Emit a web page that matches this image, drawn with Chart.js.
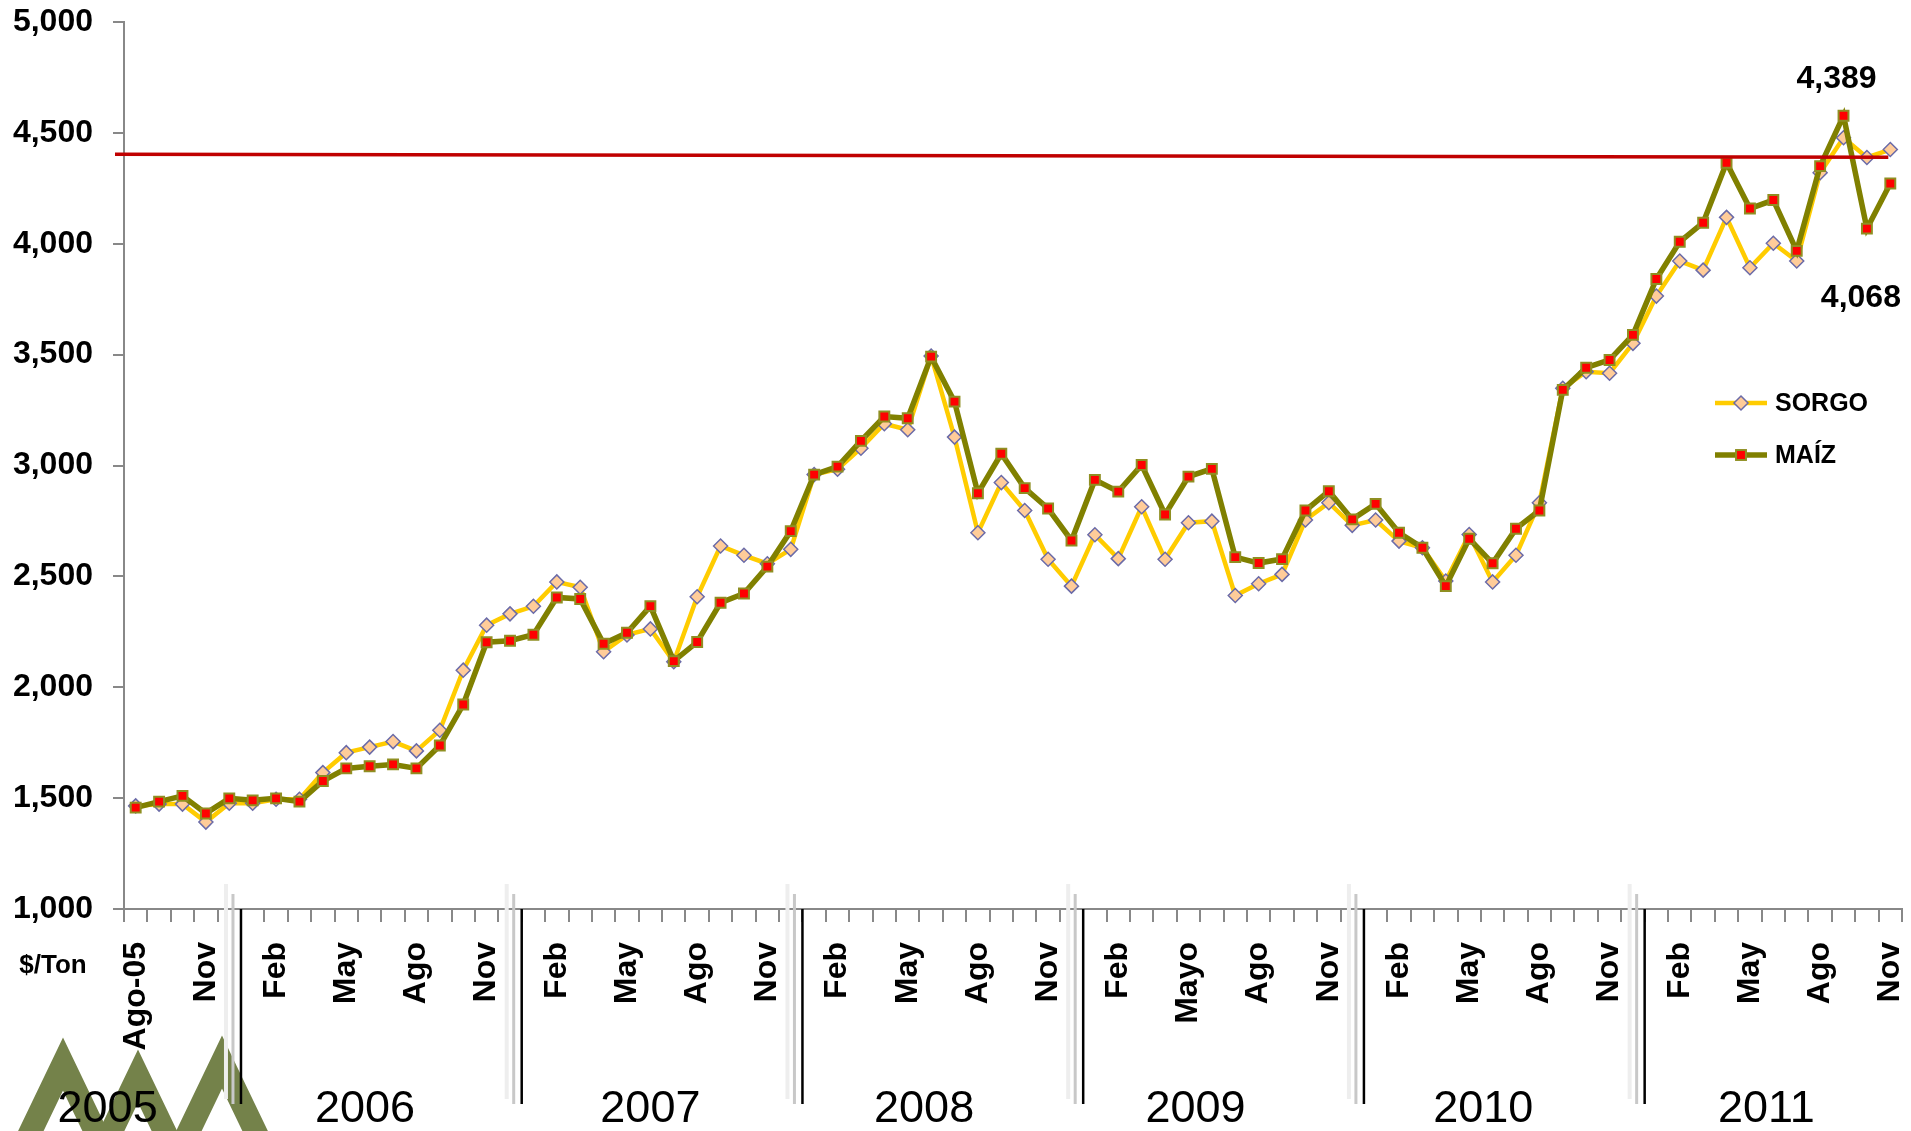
<!DOCTYPE html>
<html>
<head>
<meta charset="utf-8">
<title>Sorgo y Maíz $/Ton</title>
<script src="https://cdn.jsdelivr.net/npm/chart.js@4.4.0/dist/chart.umd.min.js"></script>
<style>
  html, body { margin: 0; padding: 0; background: #fff; }
  #wrap { width: 1911px; height: 1131px; }
</style>
</head>
<body>
<div id="wrap"><canvas id="chart" width="1911" height="1131"></canvas></div>
<script>
// Categories: monthly, Ago-2005 .. Nov-2011
const months = [
  "Ago-05", "Sep", "Oct", "Nov", "Dic",
  "Ene", "Feb", "Mar", "Abr", "May", "Jun", "Jul", "Ago", "Sep", "Oct", "Nov", "Dic",
  "Ene", "Feb", "Mar", "Abr", "May", "Jun", "Jul", "Ago", "Sep", "Oct", "Nov", "Dic",
  "Ene", "Feb", "Mar", "Abr", "May", "Jun", "Jul", "Ago", "Sep", "Oct", "Nov", "Dic",
  "Ene", "Feb", "Mar", "Abr", "Mayo", "Jun", "Jul", "Ago", "Sep", "Oct", "Nov", "Dic",
  "Ene", "Feb", "Mar", "Abr", "May", "Jun", "Jul", "Ago", "Sep", "Oct", "Nov", "Dic",
  "Ene", "Feb", "Mar", "Abr", "May", "Jun", "Jul", "Ago", "Sep", "Oct", "Nov",
];

// $/Ton
const sorgo = [
  1465, 1473, 1473, 1392, 1477, 1477, 1495, 1495, 1615, 1705,
  1730, 1755, 1713, 1806, 2077, 2280, 2331, 2365, 2475, 2451,
  2160, 2236, 2263, 2115, 2408, 2637, 2595, 2557, 2622, 2959,
  2983, 3078, 3188, 3161, 3494, 3128, 2697, 2923, 2797, 2577,
  2456, 2688, 2580, 2814, 2577, 2742, 2749, 2414, 2467, 2509,
  2754, 2832, 2730, 2754, 2659, 2629, 2479, 2689, 2475, 2595,
  2832, 3348, 3423, 3416, 3551, 3764, 3922, 3881, 4119, 3892,
  4002, 3922, 4320, 4478, 4389, 4425,
];

const maiz = [
  1457, 1484, 1510, 1431, 1499, 1490, 1499, 1484, 1577, 1634,
  1644, 1652, 1634, 1737, 1922, 2203, 2210, 2237, 2405, 2398,
  2196, 2246, 2366, 2118, 2204, 2381, 2423, 2544, 2704, 2959,
  2995, 3111, 3221, 3213, 3491, 3288, 2875, 3053, 2898, 2806,
  2662, 2935, 2882, 3002, 2779, 2950, 2985, 2587, 2560, 2578,
  2797, 2884, 2757, 2827, 2697, 2629, 2456, 2670, 2559, 2715,
  2797, 3341, 3441, 3476, 3589, 3841, 4009, 4095, 4365, 4159,
  4197, 3968, 4350, 4577, 4068, 4272,
];

const years = ["2005", "2006", "2007", "2008", "2009", "2010", "2011"];
const yearStarts = [0, 5, 17, 29, 41, 53, 65]; // first category of each year
const refLine = [4404, 4390]; // red reference line, left / right end
const callouts = ["4,389", "4,068"];

const FONT = '"Liberation Sans", Arial, sans-serif';
Chart.defaults.font.family = FONT;
Chart.defaults.color = "#000";

// layout bits (pixels / category widths), kept apart from the data
const yearLabelAt = [-0.7, 10.3, 22.5, 34.2, 45.8, 58.1, 70.2];
const logoApex = [[63, 1064], [138, 1076], [222, 1062]];

function catWidth(x) {
  return x.getPixelForValue(1) - x.getPixelForValue(0);
}

function drawDiamond(ctx, cx, cy, r) {
  ctx.beginPath();
  ctx.moveTo(cx, cy - r);
  ctx.lineTo(cx + r, cy);
  ctx.lineTo(cx, cy + r);
  ctx.lineTo(cx - r, cy);
  ctx.closePath();
}

const decorations = {
  id: "decorations",
  beforeDraw(chart) {
    const ctx = chart.ctx;
    ctx.save();
    ctx.fillStyle = "#fff";
    ctx.fillRect(0, 0, chart.width, chart.height);

    // logo chevrons at bottom left
    ctx.strokeStyle = "#74824a";
    ctx.lineWidth = 23;
    ctx.lineJoin = "miter";
    logoApex.forEach(([ax, ay]) => {
      const drop = chart.height + 20 - ay;
      ctx.beginPath();
      ctx.moveTo(ax - drop * 0.48, ay + drop);
      ctx.lineTo(ax, ay);
      ctx.lineTo(ax + drop * 0.48, ay + drop);
      ctx.stroke();
    });
    ctx.restore();
  },
  afterDraw(chart) {
    const ctx = chart.ctx;
    const x = chart.scales.x;
    const y = chart.scales.y;
    const area = chart.chartArea;
    const cw = catWidth(x);
    ctx.save();

    // year separators (with the faint ghost lines of the original)
    yearStarts.slice(1).forEach((k) => {
      const bx = x.getPixelForValue(k) - cw / 2;
      ctx.lineWidth = 4;
      ctx.strokeStyle = "#eeeeee";
      ctx.beginPath();
      ctx.moveTo(bx - 15, area.bottom - 25);
      ctx.lineTo(bx - 15, area.bottom + 190);
      ctx.stroke();
      ctx.lineWidth = 3;
      ctx.strokeStyle = "#c8c8c8";
      ctx.beginPath();
      ctx.moveTo(bx - 8, area.bottom - 15);
      ctx.lineTo(bx - 8, area.bottom + 195);
      ctx.stroke();
      ctx.lineWidth = 2.5;
      ctx.strokeStyle = "#000";
      ctx.beginPath();
      ctx.moveTo(bx, area.bottom);
      ctx.lineTo(bx, area.bottom + 195);
      ctx.stroke();
    });

    // year labels
    ctx.fillStyle = "#000";
    ctx.font = "45px " + FONT;
    ctx.textAlign = "center";
    ctx.textBaseline = "alphabetic";
    years.forEach((yr, i) => {
      ctx.fillText(yr, area.left + yearLabelAt[i] * cw, area.bottom + 213);
    });

    // unit label
    ctx.font = "bold 26px " + FONT;
    ctx.textBaseline = "middle";
    ctx.fillText("$/Ton", area.left - 71, area.bottom + 57);

    // red reference line
    ctx.strokeStyle = "#c00000";
    ctx.lineWidth = 3.5;
    ctx.beginPath();
    ctx.moveTo(area.left - 9, y.getPixelForValue(refLine[0]));
    ctx.lineTo(x.getPixelForValue(months.length - 1) - 2, y.getPixelForValue(refLine[1]));
    ctx.stroke();

    // value callouts
    ctx.fillStyle = "#000";
    ctx.font = "bold 32px " + FONT;
    ctx.textBaseline = "alphabetic";
    ctx.fillText(callouts[0], x.getPixelForValue(73) - 7, y.getPixelForValue(maiz[73]) - 28);
    ctx.fillText(callouts[1], x.getPixelForValue(74) - 6, y.getPixelForValue(maiz[74]) + 78);

    // legend
    const legendRows = [
      { ds: chart.data.datasets[1], dy: 381 },
      { ds: chart.data.datasets[0], dy: 433 },
    ];
    ctx.font = "bold 25px " + FONT;
    ctx.textAlign = "left";
    ctx.textBaseline = "middle";
    legendRows.forEach(({ ds, dy }) => {
      const ly = area.top + dy;
      const lx0 = area.right - 187;
      const lx1 = area.right - 135;
      ctx.strokeStyle = ds.borderColor;
      ctx.lineWidth = ds.borderWidth;
      ctx.beginPath();
      ctx.moveTo(lx0, ly);
      ctx.lineTo(lx1, ly);
      ctx.stroke();
      const mx = (lx0 + lx1) / 2;
      ctx.fillStyle = ds.pointBackgroundColor;
      ctx.strokeStyle = ds.pointBorderColor;
      ctx.lineWidth = ds.pointBorderWidth;
      if (ds.pointStyle === "rectRot") {
        drawDiamond(ctx, mx, ly, ds.pointRadius);
        ctx.fill();
        ctx.stroke();
      } else {
        const h = ds.pointRadius * Math.SQRT1_2;
        ctx.fillRect(mx - h, ly - h, 2 * h, 2 * h);
        ctx.strokeRect(mx - h, ly - h, 2 * h, 2 * h);
      }
      ctx.fillStyle = "#000";
      ctx.fillText(ds.label, area.right - 127, ly + 1);
    });

    ctx.restore();
  },
};

new Chart(document.getElementById("chart"), {
  type: "line",
  data: {
    labels: months,
    datasets: [
      {
        label: "MAÍZ",
        data: maiz,
        borderColor: "#808000",
        borderWidth: 5.5,
        pointStyle: "rect",
        pointRadius: 7,
        pointBackgroundColor: "#ff0000",
        pointBorderColor: "#8f8f22",
        pointBorderWidth: 2,
        tension: 0,
        fill: false,
        order: 1,
      },
      {
        label: "SORGO",
        data: sorgo,
        borderColor: "#ffcc00",
        borderWidth: 4.5,
        pointStyle: "rectRot",
        pointRadius: 7,
        pointBackgroundColor: "#ffcc99",
        pointBorderColor: "#6b6ba8",
        pointBorderWidth: 1.5,
        tension: 0,
        fill: false,
        order: 2,
      },
    ],
  },
  options: {
    responsive: false,
    devicePixelRatio: 1,
    animation: false,
    layout: {
      padding: { left: 0, top: 22, right: 7, bottom: 0 },
    },
    plugins: {
      legend: { display: false },
      tooltip: { enabled: false },
    },
    scales: {
      x: {
        type: "category",
        offset: true,
        border: { display: true, color: "#888", width: 2 },
        grid: {
          offset: true,
          drawOnChartArea: false,
          drawTicks: true,
          tickLength: 13,
          color: "#888",
          lineWidth: 2,
        },
        ticks: {
          autoSkip: false,
          maxRotation: 90,
          minRotation: 90,
          padding: 20,
          font: { size: 32, weight: "bold" },
          callback: (val, idx) => (idx % 3 === 0 ? months[idx] : ""),
        },
        afterFit(scale) {
          scale.height = 222;
          scale.paddingLeft = 0;
          scale.paddingRight = 0;
        },
      },
      y: {
        min: 1000,
        max: 5000,
        border: { display: true, color: "#888", width: 2 },
        grid: {
          drawOnChartArea: false,
          drawTicks: true,
          tickLength: 11,
          color: "#888",
          lineWidth: 2,
        },
        ticks: {
          stepSize: 500,
          padding: 20,
          font: { size: 32, weight: "bold" },
          callback: (v) => v.toLocaleString("en-US"),
        },
        afterFit(scale) {
          scale.width = 124;
          scale.paddingTop = 0;
          scale.paddingBottom = 0;
        },
      },
    },
  },
  plugins: [decorations],
});
</script>
</body>
</html>
